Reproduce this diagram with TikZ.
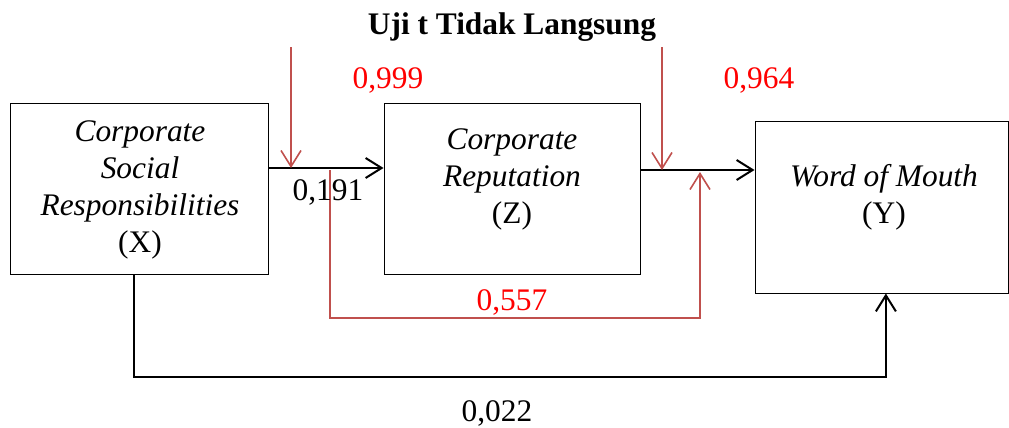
\documentclass[tikz,border=0pt]{standalone}
\usepackage{fontspec}
\setmainfont{Liberation Serif}
\usetikzlibrary{arrows.meta}

\definecolor{pathred}{RGB}{192,80,77}

\tikzset{
  txt/.style={font=\fontsize{15.7}{18.5}\selectfont, inner sep=0pt, align=center},
  box/.style={draw, line width=0.5pt, inner sep=0pt},
  blk/.style={line width=1pt, -{Straight Barb[length=8pt,width=10pt]}},
  rline/.style={pathred, line width=0.8pt},
  rarrow/.style={rline, -{Straight Barb[length=8pt,width=10pt]}},
}

\begin{document}
\begin{tikzpicture}[x=0.5pt,y=-0.5pt]
  \useasboundingbox (0,0) rectangle (1009,428);

  % title
  \node[txt, font=\fontsize{15.7}{18.5}\selectfont\bfseries] (title) at (512,27) {Uji t Tidak Langsung};

  % variables
  \node[box, minimum width=129pt, minimum height=85.5pt] (X) at (139,188.5) {};
  \node[box, minimum width=128pt, minimum height=85.5pt] (Z) at (512,188.5) {};
  \node[box, minimum width=126.5pt, minimum height=86pt] (Y) at (881.5,207) {};

  \node[txt] (Xtxt) at (140,190) {\textit{Corporate}\\ \textit{Social}\\ \textit{Responsibilities}\\ (X)};
  \node[txt] (Ztxt) at (512,179.5) {\textit{Corporate}\\ \textit{Reputation}\\ (Z)};
  \node[txt] (Ytxt) at (884,197) {\textit{Word of Mouth}\\ (Y)};

  % error terms
  \coordinate (e1) at (291,47);
  \coordinate (e2) at (662,47);
  \coordinate (h1) at (291,168);
  \coordinate (h2) at (662,170);

  % direct paths
  \draw[blk] (X.east |- h1) -- (Z.west |- h1);
  \draw[blk] (Z.east |- h2) -- (Y.west |- h2);
  \draw[blk] ([xshift=-2.5pt]X.south) -- ([xshift=-2.5pt]X.south |- 0,377) -| ([xshift=2.2pt]Y.south);

  % indirect path
  \coordinate (i1) at (330,170);
  \coordinate (i2) at (700,172);
  \draw[rarrow] (i1) -- (i1 |- 0,318) -| (i2);

  \draw[rarrow] (e1) -- (h1);
  \draw[rarrow] (e2) -- (h2);

  % coefficients
  \node[txt, red] (r1) at (388,80) {0,999};
  \node[txt, red] (r2) at (759,80) {0,964};
  \node[txt] (bxz) at (328,192) {0,191};
  \node[txt, red] (bind) at (512,302) {0,557};
  \node[txt] (bxy) at (497,413) {0,022};
\end{tikzpicture}
\end{document}
